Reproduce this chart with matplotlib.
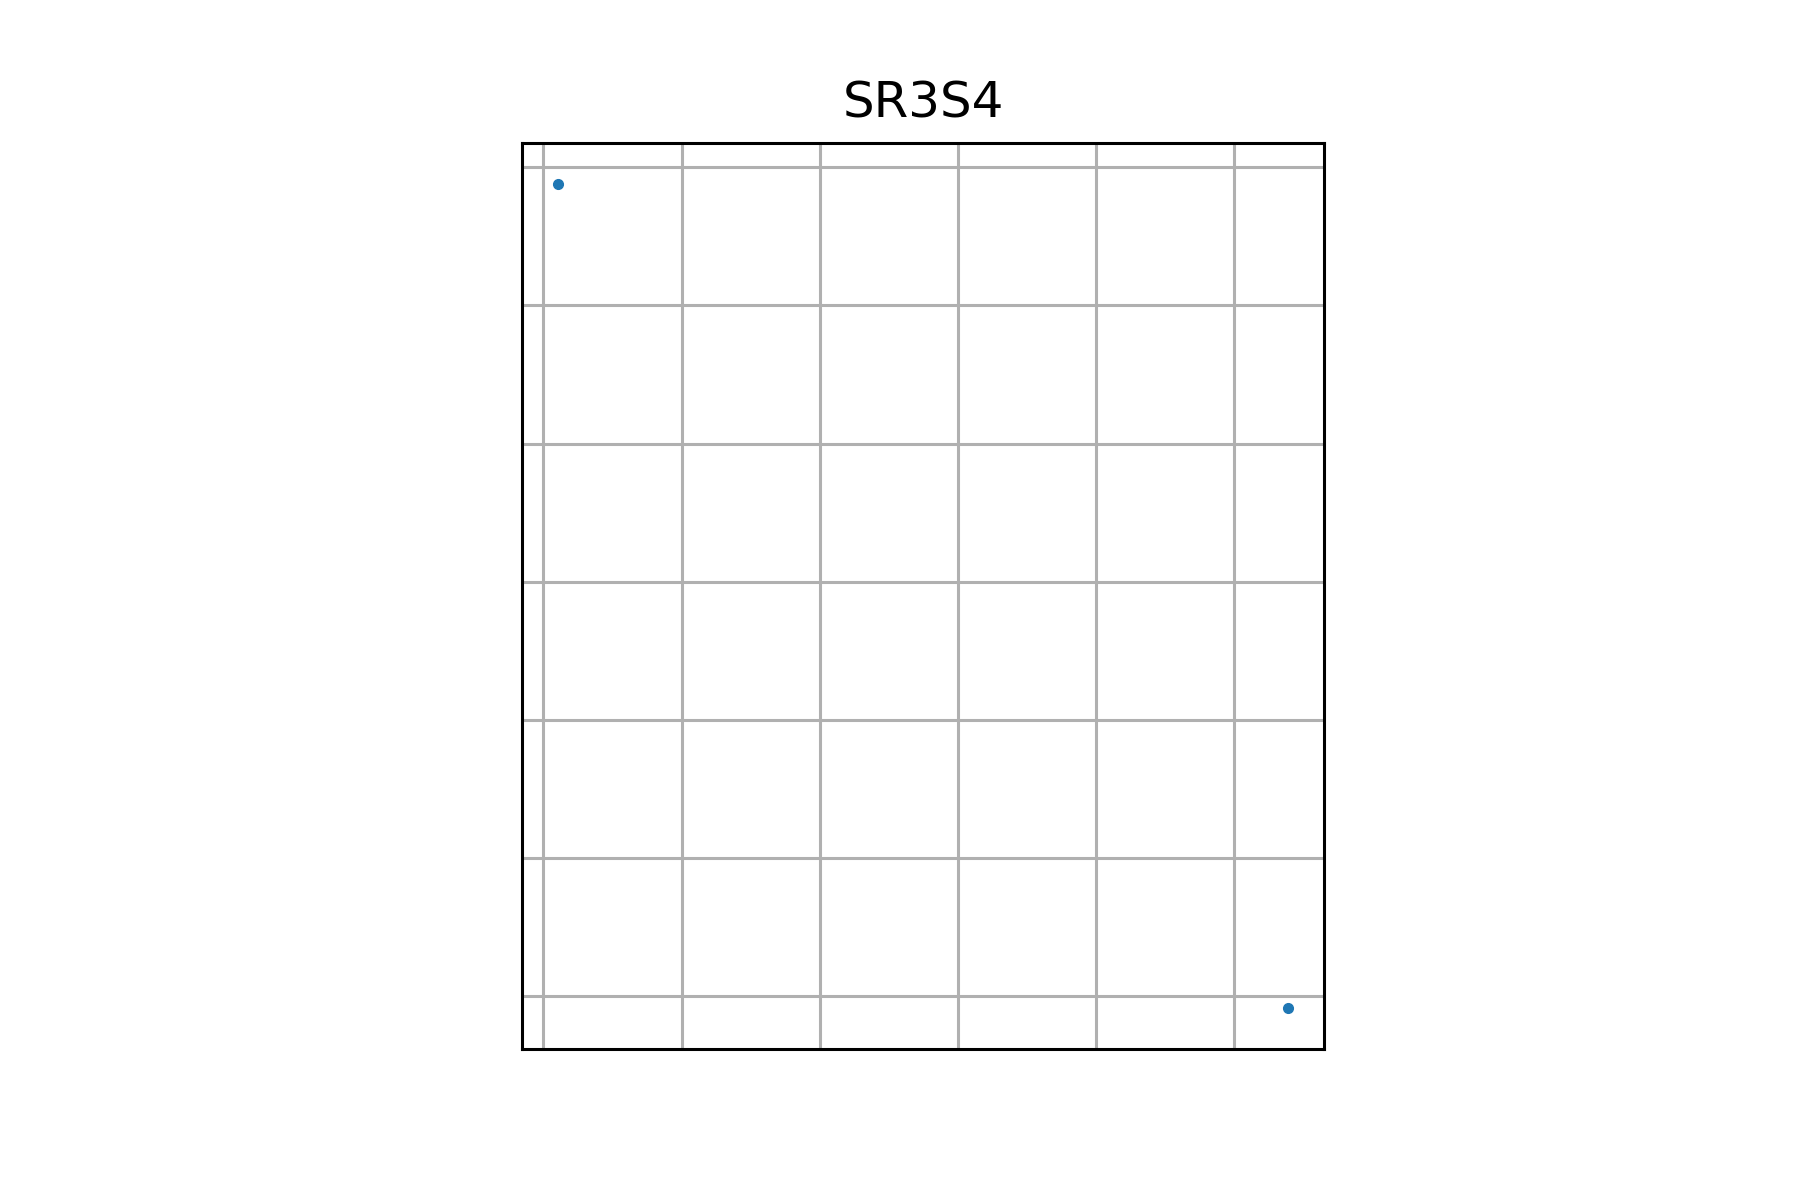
import matplotlib
matplotlib.use("Agg")
import matplotlib.pyplot as plt
from matplotlib.ticker import MultipleLocator

# point coordinates (grid spacing = 1 unit)
x_vals = [0.106, 5.39]
y_vals = [5.879, -0.084]
title = "SR3S4"

fig = plt.figure(figsize=(18, 12), dpi=100)
ax = fig.add_axes([0.2894, 0.126, 0.4467, 0.755])
ax.plot(x_vals, y_vals, 'o', color='#1f77b4', markersize=7, linestyle='none')
ax.set_aspect('equal')

ax.xaxis.set_major_locator(MultipleLocator(1))
ax.yaxis.set_major_locator(MultipleLocator(1))
ax.grid(True, color='#b0b0b0', linewidth=2.2)
ax.set_axisbelow(True)
ax.tick_params(length=0, labelbottom=False, labelleft=False)
for sp in ax.spines.values():
    sp.set_linewidth(2.2)

ax.set_title(title, fontsize=36, pad=18)

fig.savefig("out.png", dpi=100)
